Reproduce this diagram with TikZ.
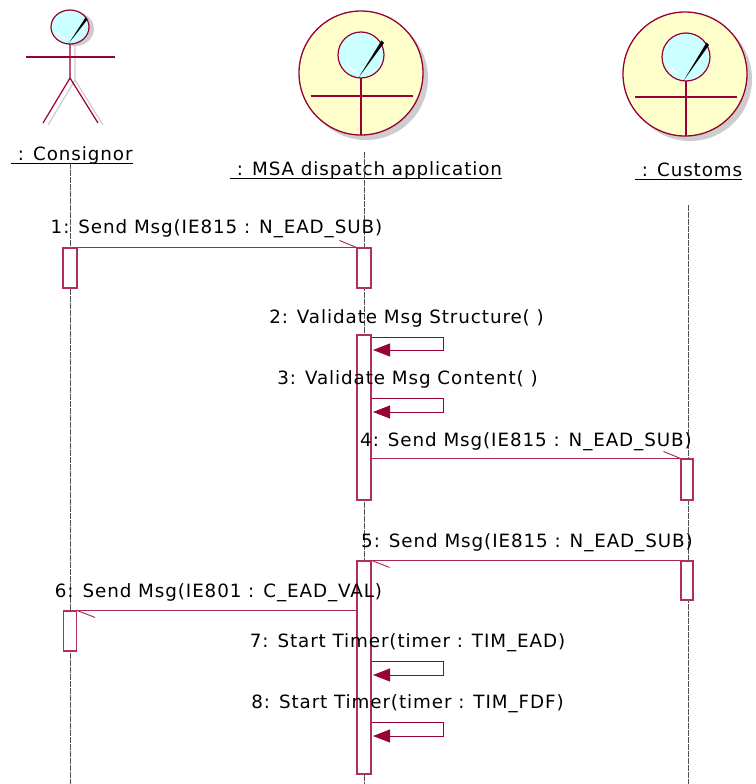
\documentclass[tikz,border=0pt]{standalone}
\usepackage{fontspec}
\setmainfont[LetterSpace=5]{DejaVu Sans}
\usetikzlibrary{arrows.meta}
\definecolor{crim}{RGB}{153,0,51}
\definecolor{boxcol}{RGB}{176,48,90}
\definecolor{headfill}{RGB}{204,255,255}
\definecolor{bodyfill}{RGB}{255,255,204}
\definecolor{shadowcol}{RGB}{205,205,205}
\definecolor{lifecol}{RGB}{80,80,80}
\tikzset{
  lbl/.style={font=\fontsize{18.3}{22}\selectfont, inner sep=0pt, anchor=base, text=black},
  hdr/.style={font=\fontsize{18.3}{22}\selectfont, inner sep=0pt, anchor=base west, text=black},
  act/.style={draw=boxcol, fill=white, line width=1.1pt, minimum width=14pt, inner sep=0pt},
  life/.style={draw=lifecol, line width=0.7pt, dash pattern=on 6pt off 1pt},
  msgline/.style={draw=crim!85, line width=0.9pt},
  selfline/.style={draw=crim, line width=1pt, -{Triangle[length=17pt,width=13pt]}},
  stickfig/.style={draw=crim, line width=1.2pt},
  ulin/.style={draw=black, line width=0.9pt},
  gloss/.style={fill=black},
  shine/.style={draw=white, line width=1.1pt},
}
\begin{document}
\begin{tikzpicture}[x=1pt,y=-1pt]
\useasboundingbox[fill=white] (0,0) rectangle (755,784);

% ---------- Consignor actor ----------
\begin{scope}[shift={(5,2)}]
  \draw[draw=shadowcol, line width=1.2pt] (70,44) -- (70,78) (70,78) -- (43,123) (70,78) -- (98,123);
  \fill[shadowcol] (70,27) ellipse [x radius=19, y radius=17];
\end{scope}
\draw[stickfig] (26,57) -- (115,57);
\draw[stickfig] (70,44) -- (70,78) -- (43,123);
\draw[stickfig] (70,78) -- (98,123);
\draw[stickfig, fill=headfill] (70,27) ellipse [x radius=19, y radius=17];
\draw[shine] (70,27) ++(110:14 and 12) arc[start angle=110, end angle=160, x radius=14, y radius=12];
\fill[gloss] (69,43) -- (85.5,17.5) -- (87.5,19.5) -- cycle;
\node[hdr] (consignor) at (11,160) {\ : Consignor};
\draw[ulin] ([yshift=-3.5pt]consignor.base west) -- ([yshift=-3.5pt]consignor.base east);

% ---------- MSA business actor ----------
\fill[shadowcol] (366,78) circle[radius=62];
\draw[draw=crim, line width=1.3pt, fill=bodyfill] (361,73) circle[radius=62];
\draw[stickfig] (311,96) -- (413,96);
\draw[stickfig] (361,78) -- (361,135);
\draw[stickfig, fill=headfill] (361,55) circle[radius=23];
\draw[shine] (361,55) ++(110:17) arc[start angle=110, end angle=160, radius=17];
\fill[gloss] (359,77) -- (381.5,40.5) -- (384,43) -- cycle;
\node[hdr] (msa) at (230,175) {\ : MSA dispatch application};
\draw[ulin] ([yshift=-3.5pt]msa.base west) -- ([yshift=-3.5pt]msa.base east);

% ---------- Customs business actor ----------
\fill[shadowcol] (690,79) circle[radius=62];
\draw[draw=crim, line width=1.3pt, fill=bodyfill] (685,74) circle[radius=62];
\draw[stickfig] (635,97) -- (737,97);
\draw[stickfig] (686,81) -- (686,136);
\draw[stickfig, fill=headfill] (686,57) circle[radius=24];
\draw[shine] (686,57) ++(110:18) arc[start angle=110, end angle=160, radius=18];
\fill[gloss] (684,80) -- (706.5,42.5) -- (709,45) -- cycle;
\node[hdr] (customs) at (635,176) {\ : Customs};
\draw[ulin] ([yshift=-3.5pt]customs.base west) -- ([yshift=-3.5pt]customs.base east);

% ---------- lifelines ----------
\coordinate (cTop) at (70,163);
\coordinate (cBot) at (70,784);
\coordinate (mTop) at (364,152);
\coordinate (mBot) at (364,784);
\coordinate (uTop) at (688,205);
\coordinate (uBot) at (688,784);
\draw[life] (cTop) -- (cBot);
\draw[life] (mTop) -- (mBot);
\draw[life] (uTop) -- (uBot);

% ---------- activation boxes ----------
\node[act, minimum height=40pt] (c1) at (70,268) {};
\node[act, minimum height=40pt] (m1) at (364,268) {};
\node[act, minimum height=165pt] (m2) at (364,417.5) {};
\node[act, minimum width=12pt, minimum height=41pt] (u1) at (687,479.5) {};
\node[act, minimum width=12pt, minimum height=39pt] (u2) at (687,580.5) {};
\node[act, minimum height=213pt] (m3) at (364,667.5) {};
\node[act, minimum width=13pt, minimum height=40pt] (c2) at (70,631) {};

% ---------- messages ----------
% 1
\draw[msgline] (c1.north east) -- (m1.north west);
\draw[msgline] (m1.north west) -- ++(-17,-7);
\node[lbl] (l1) at (216.5,233) {1: Send Msg(IE815 : N\_EAD\_SUB)};
% 2
\draw[selfline] (m2.east |- 0,337) -| (443,350) -- ([xshift=1.5pt]m2.east |- 0,350);
\node[lbl] (l2) at (406.5,323) {2: Validate Msg Structure( )};
% 3
\draw[selfline] (m2.east |- 0,398) -| (443,412) -- ([xshift=1.5pt]m2.east |- 0,412);
\node[lbl] (l3) at (407.5,384) {3: Validate Msg Content( )};
% 4
\draw[msgline] (m2.east |- u1.north) -- (u1.north west);
\draw[msgline] (u1.north west) -- ++(-17,-7);
\node[lbl] (l4) at (526,446) {4: Send Msg(IE815 : N\_EAD\_SUB)};
% 5
\draw[msgline] (u2.north west) -- (m3.north east);
\draw[msgline] (m3.north east) -- ++(18,7);
\node[lbl] (l5) at (527,547) {5: Send Msg(IE815 : N\_EAD\_SUB)};
% 6
\draw[msgline] (m3.west |- c2.north) -- (c2.north east);
\draw[msgline] (c2.north east) -- ++(18,7);
\node[lbl] (l6) at (218.5,597) {6: Send Msg(IE801 : C\_EAD\_VAL)};
% 7
\draw[selfline] (m3.east |- 0,661) -| (443,675) -- ([xshift=1.5pt]m3.east |- 0,675);
\node[lbl] (l7) at (407.5,647) {7: Start Timer(timer : TIM\_EAD)};
% 8
\draw[selfline] (m3.east |- 0,722) -| (443,736) -- ([xshift=1.5pt]m3.east |- 0,736);
\node[lbl] (l8) at (407.5,708) {8: Start Timer(timer : TIM\_FDF)};
\end{tikzpicture}
\end{document}
